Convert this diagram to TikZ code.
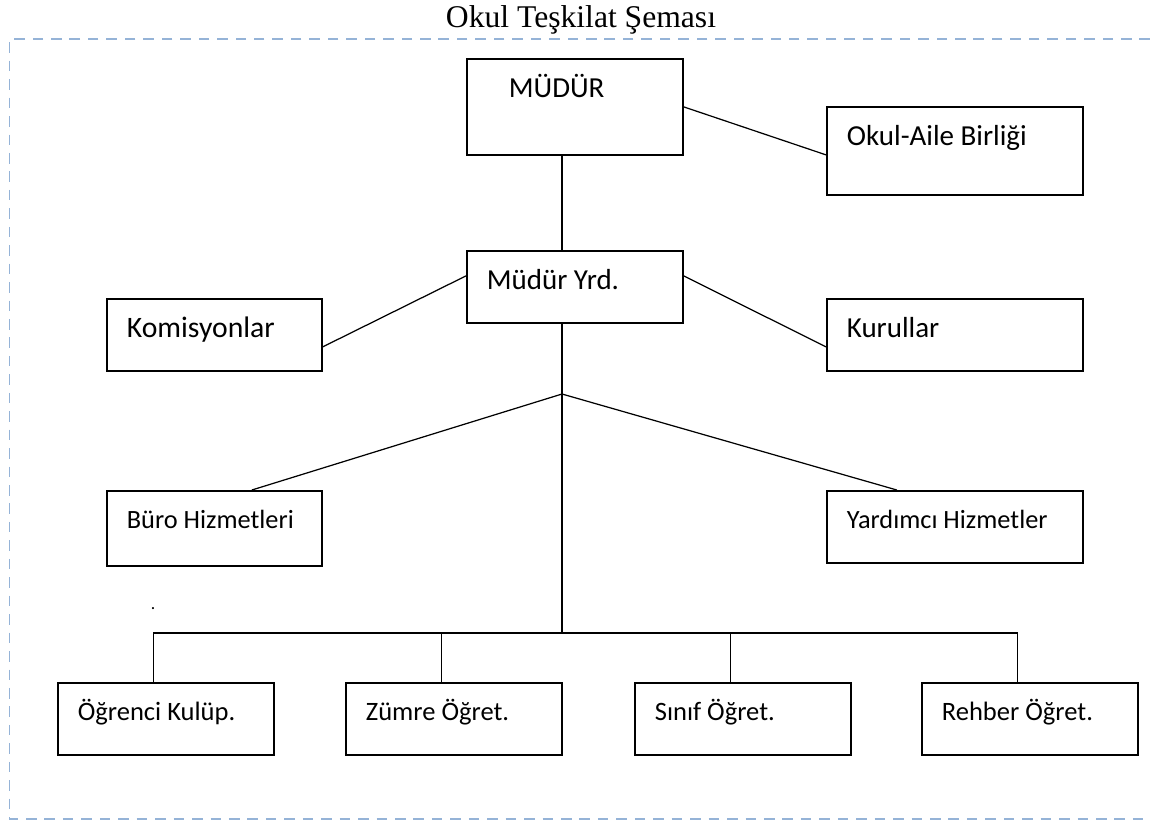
\documentclass[tikz,border=0pt]{standalone}
\usepackage{fontspec}
\setmainfont{Liberation Serif}
\newfontfamily\calibri{Carlito}
\definecolor{frameblue}{RGB}{149,179,215}

\begin{document}
\begin{tikzpicture}[x=0.02cm,y=-0.02cm,
    box/.style={draw,line width=1pt,anchor=north west,align=flush left,
        inner xsep=0.4cm,inner ysep=0pt,text width=3.52cm,
        text height=0.78cm,text depth=0.66cm,
        font=\calibri\fontsize{16.5}{20}\selectfont},
    wide/.style={text width=4.32cm},
    midfont/.style={font=\calibri\fontsize{15}{18}\selectfont,text height=0.76cm},
    lowfont/.style={font=\calibri\fontsize{15.1}{18}\selectfont,text height=0.76cm,text depth=0.68cm},
    conn/.style={line width=0.7pt},
    frame/.style={frameblue,line width=1.1pt,dash pattern=on 6pt off 4.5pt}]
    \useasboundingbox (0,0) rectangle (1150,823);
    \node[font=\fontsize{18}{22}\selectfont,anchor=base] (baslik) at (581,27.3) {Okul Teşkilat Şeması};
    \draw[frame] (1150,39) -| (9.5,819) -- (1150,819);

    % top levels
    \node[box,text depth=1.14cm] (mudur) at (466,58) {\hspace*{0.44cm}MÜDÜR};
    \node[box,wide,text depth=0.98cm] (aile) at (826,106) {Okul-Aile Birliği};
    \node[box] (yrd) at (466,250) {Müdür Yrd.};
    \node[box,text width=3.5cm,font=\calibri\fontsize{16.9}{20}\selectfont] (komisyon) at (106,298) {Komisyonlar};
    \node[box,wide] (kurul) at (826,298) {Kurullar};
    \node[box,midfont,text width=3.5cm,text depth=0.74cm] (buro) at (106,490) {Büro Hizmetleri};
    \node[box,midfont,wide,text depth=0.68cm] (yardimci) at (826,490) {Yardımcı Hizmetler};

    % bottom row
    \node[box,lowfont] (ogrenci) at (57,682) {Öğrenci Kulüp.};
    \node[box,lowfont] (zumre) at (345,682) {Zümre Öğret.};
    \node[box,lowfont] (sinif) at (634,682) {Sınıf Öğret.};
    \node[box,lowfont] (rehber) at (921,682) {Rehber Öğret.};
    \node[font=\calibri\fontsize{10}{12}\selectfont,anchor=base,inner sep=0pt] (nokta) at (153,609) {.};

    \coordinate (fan) at (562,394);
    \coordinate (bus) at (562,633);

    \draw[conn] (mudur.east) -- ([yshift=-0.08cm]aile.west);
    \draw[conn] (mudur.south -| fan) -- (yrd.north -| fan);
    \draw[conn] ([yshift=0.22cm]yrd.west) -- ([yshift=-0.24cm]komisyon.east);
    \draw[conn] ([yshift=0.22cm]yrd.east) -- ([yshift=-0.24cm]kurul.west);
    \draw[conn] (yrd.south -| fan) -- (fan) -- (bus);
    \draw[conn] (fan) -- ([xshift=0.75cm]buro.north);
    \draw[conn] (fan) -- ([xshift=-1.16cm]yardimci.north);
    \foreach \b in {ogrenci,zumre,sinif,rehber}
        \draw[conn] ([xshift=-0.24cm]\b.north) |- (bus);
\end{tikzpicture}
\end{document}
